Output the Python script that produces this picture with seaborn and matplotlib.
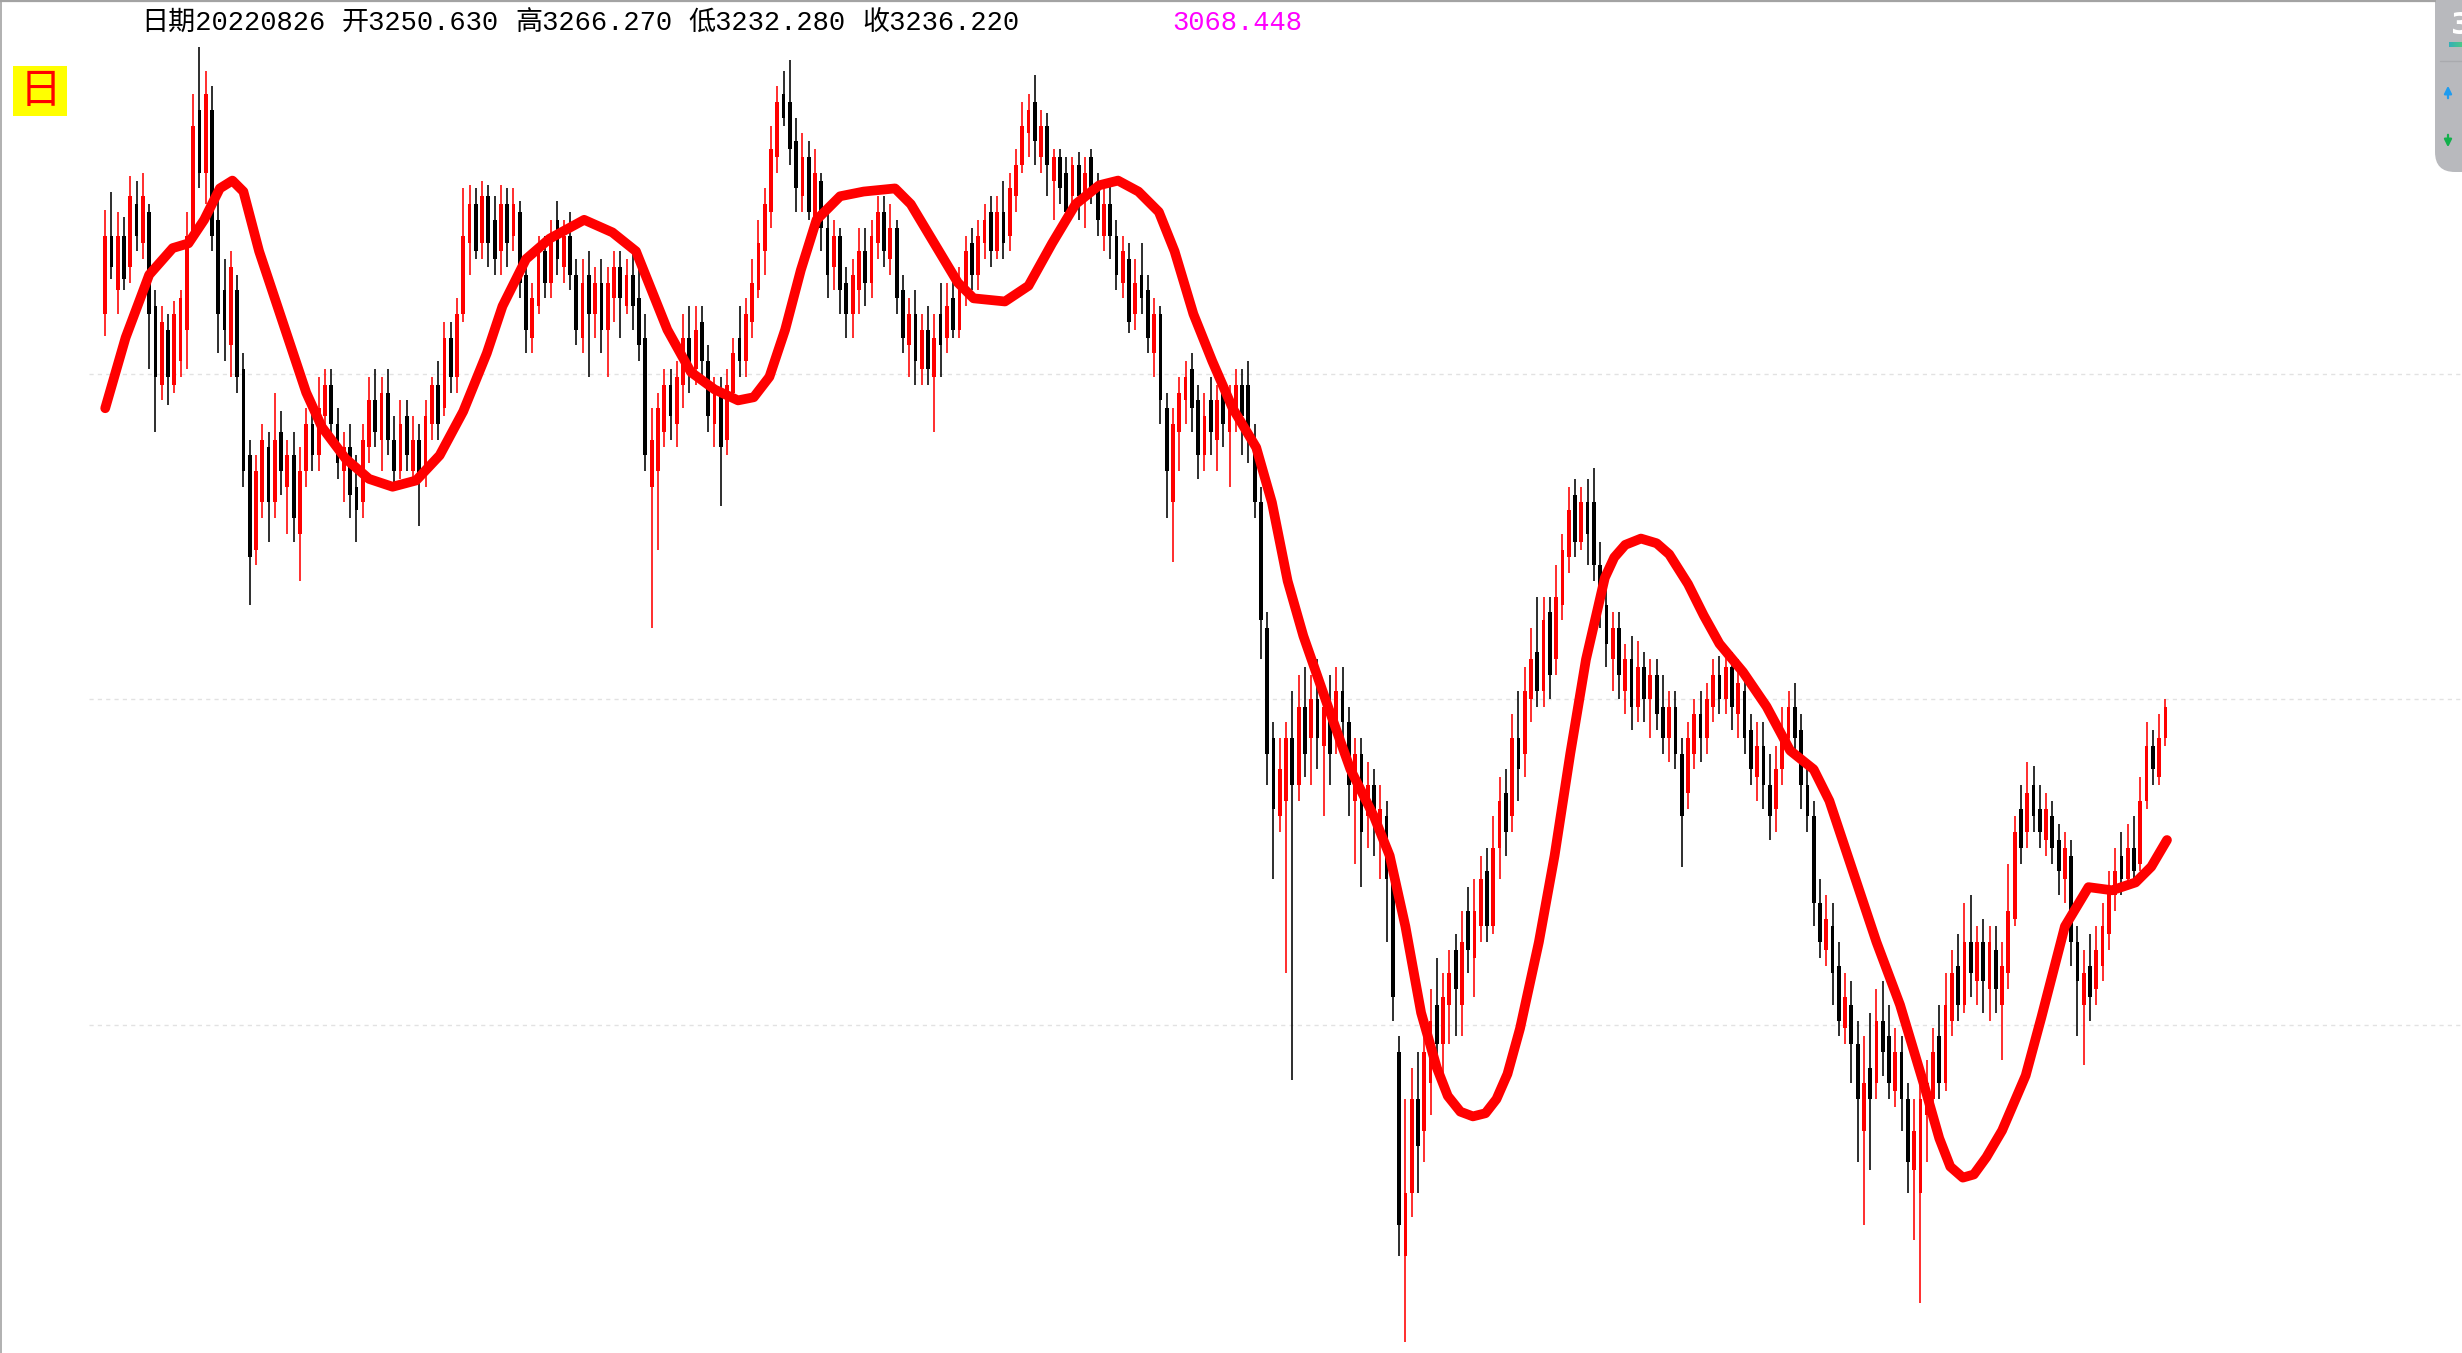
import numpy as np
import pandas as pd
import matplotlib
matplotlib.use("Agg")
import matplotlib.pyplot as plt
import seaborn as sns
from matplotlib.patches import FancyBboxPatch, Rectangle
from matplotlib.colors import LinearSegmentedColormap

# ---------------- data (daily OHLC, index points) ----------------
opens = [
    3525,3575,3540,3575,3555,3595,3570,3590,3530,3480,
    3515,3480,3495,3515,3575,3655,3615,3655,3585,3540,
    3505,3540,3490,3435,3375,3405,3440,3405,3450,3415,
    3435,3385,3425,3455,3435,3460,3480,3455,3425,3440,
    3415,3405,3440,3470,3445,3475,3445,3425,3460,3425,
    3445,3425,3455,3480,3465,3510,3485,3525,3570,3595,
    3570,3600,3585,3565,3595,3575,3590,3550,3510,3530,
    3565,3545,3585,3555,3575,3550,3510,3550,3525,3545,
    3515,3535,3555,3530,3550,3535,3510,3415,3425,3450,
    3480,3455,3480,3510,3490,3520,3495,3455,3475,3445,
    3475,3510,3495,3520,3540,3565,3590,3625,3665,3660,
    3635,3600,3625,3585,3610,3580,3555,3575,3545,3525,
    3540,3565,3545,3570,3590,3560,3580,3540,3505,3525,
    3490,3515,3485,3525,3510,3535,3515,3540,3570,3550,
    3570,3590,3565,3590,3575,3600,3620,3640,3660,3625,
    3645,3610,3625,3615,3600,3620,3600,3625,3605,3575,
    3595,3575,3545,3560,3525,3550,3540,3500,3525,3465,
    3405,3450,3470,3490,3470,3435,3470,3445,3475,3450,
    3465,3480,3480,3445,3405,3325,3255,3205,3215,3255,
    3225,3275,3255,3280,3250,3275,3255,3285,3265,3215,
    3245,3205,3225,3195,3205,3165,3055,2925,2965,3025,
    3005,3035,3085,3060,3085,3120,3085,3145,3115,3135,
    3170,3135,3185,3220,3205,3255,3245,3280,3310,3285,
    3335,3305,3340,3370,3410,3380,3405,3405,3365,3340,
    3305,3325,3285,3305,3275,3300,3280,3295,3275,3255,
    3275,3245,3220,3245,3270,3255,3275,3295,3280,3300,
    3270,3285,3260,3230,3250,3225,3210,3235,3255,3275,
    3260,3225,3205,3150,3120,3135,3110,3070,3085,3060,
    3005,3045,3035,3075,3065,3030,3055,3025,2980,2965,
    3015,3025,3065,3035,3075,3110,3085,3125,3100,3125,
    3095,3120,3085,3105,3140,3210,3195,3225,3210,3190,
    3205,3190,3165,3180,3125,3085,3110,3095,3110,3130,
    3155,3180,3165,3185,3175,3215,3250,3230,3255,
]
closes = [
    3575,3555,3575,3547,3600,3575,3600,3525,3485,3520,
    3485,3525,3535,3575,3645,3615,3665,3575,3525,3515,
    3555,3485,3425,3370,3425,3445,3405,3445,3425,3435,
    3395,3425,3455,3435,3465,3480,3455,3430,3440,3410,
    3400,3445,3470,3450,3475,3445,3425,3455,3435,3445,
    3420,3460,3480,3455,3510,3485,3525,3575,3595,3565,
    3600,3570,3560,3595,3570,3595,3545,3515,3535,3565,
    3545,3575,3560,3575,3550,3515,3545,3525,3545,3515,
    3545,3555,3535,3550,3530,3505,3435,3445,3465,3480,
    3460,3485,3510,3490,3515,3495,3460,3475,3440,3480,
    3500,3495,3525,3545,3570,3595,3630,3660,3650,3630,
    3605,3625,3590,3615,3580,3550,3575,3540,3525,3550,
    3565,3545,3575,3590,3565,3580,3535,3510,3525,3495,
    3515,3490,3510,3505,3530,3515,3545,3565,3550,3575,
    3585,3565,3590,3570,3605,3620,3645,3655,3635,3645,
    3620,3625,3605,3590,3620,3600,3615,3605,3585,3595,
    3575,3550,3565,3520,3545,3535,3510,3525,3470,3425,
    3455,3475,3485,3465,3435,3460,3450,3470,3455,3470,
    3480,3460,3445,3405,3330,3245,3210,3235,3255,3225,
    3275,3245,3280,3255,3275,3245,3285,3265,3225,3245,
    3195,3225,3205,3210,3165,3090,2945,2965,3025,2995,
    3055,3075,3060,3090,3105,3095,3125,3120,3145,3165,
    3135,3185,3215,3195,3255,3235,3285,3305,3285,3330,
    3295,3345,3375,3400,3380,3405,3385,3365,3335,3315,
    3325,3295,3305,3275,3300,3280,3295,3270,3255,3275,
    3245,3205,3255,3270,3255,3280,3295,3280,3300,3275,
    3290,3255,3235,3250,3225,3205,3235,3260,3275,3255,
    3225,3205,3150,3125,3140,3105,3075,3090,3060,3025,
    3035,3025,3075,3055,3035,3055,3025,2985,3005,3025,
    3035,3055,3035,3085,3105,3085,3125,3105,3125,3100,
    3125,3095,3110,3145,3195,3185,3220,3205,3195,3210,
    3185,3170,3185,3125,3100,3105,3090,3120,3135,3160,
    3170,3165,3185,3170,3215,3250,3235,3255,3275,
]
highs = [
    3591,3603,3590,3587,3613,3610,3615,3595,3540,3530,
    3525,3533,3540,3590,3665,3695,3680,3670,3605,3560,
    3565,3550,3500,3445,3435,3455,3450,3475,3463,3445,
    3450,3440,3465,3470,3485,3490,3490,3465,3450,3455,
    3435,3455,3485,3490,3485,3490,3460,3470,3470,3460,
    3455,3470,3485,3495,3520,3520,3535,3605,3607,3605,
    3610,3607,3600,3607,3605,3605,3597,3560,3545,3575,
    3575,3585,3597,3585,3590,3560,3560,3565,3555,3560,
    3555,3565,3565,3560,3565,3560,3525,3465,3475,3490,
    3490,3495,3525,3530,3530,3530,3505,3485,3485,3490,
    3510,3530,3535,3560,3585,3605,3645,3670,3680,3687,
    3650,3640,3635,3630,3615,3590,3585,3580,3555,3560,
    3580,3580,3585,3600,3600,3595,3585,3550,3535,3540,
    3525,3530,3525,3545,3545,3550,3555,3575,3580,3585,
    3595,3600,3600,3610,3615,3630,3660,3665,3677,3655,
    3653,3630,3630,3625,3625,3628,3625,3630,3615,3605,
    3610,3585,3575,3570,3560,3570,3550,3535,3530,3475,
    3465,3485,3495,3500,3480,3475,3485,3480,3485,3480,
    3490,3490,3495,3455,3415,3335,3265,3255,3265,3285,
    3295,3300,3295,3305,3285,3295,3300,3300,3275,3255,
    3255,3240,3235,3225,3215,3175,3065,3025,3045,3055,
    3070,3095,3115,3105,3120,3130,3145,3160,3165,3180,
    3185,3205,3230,3235,3270,3285,3300,3325,3345,3345,
    3345,3365,3385,3415,3420,3415,3420,3427,3380,3355,
    3335,3335,3315,3320,3317,3310,3305,3305,3295,3285,
    3285,3255,3265,3280,3285,3290,3305,3307,3310,3310,
    3305,3295,3270,3265,3265,3245,3250,3275,3285,3290,
    3270,3235,3215,3165,3155,3150,3125,3105,3100,3075,
    3065,3080,3095,3100,3085,3070,3065,3035,3025,3035,
    3050,3070,3085,3105,3120,3130,3150,3155,3135,3140,
    3135,3135,3125,3175,3205,3225,3240,3237,3225,3220,
    3215,3200,3195,3190,3135,3120,3130,3135,3150,3170,
    3185,3195,3200,3205,3230,3265,3260,3270,3280,
]
lows = [
    3511,3547,3525,3540,3545,3565,3560,3490,3450,3470,
    3467,3475,3485,3490,3570,3605,3595,3565,3500,3495,
    3485,3475,3415,3340,3365,3395,3380,3395,3410,3385,
    3380,3355,3415,3425,3425,3450,3445,3420,3405,3395,
    3380,3395,3430,3440,3425,3435,3415,3420,3425,3420,
    3390,3415,3445,3445,3460,3475,3475,3520,3550,3560,
    3560,3555,3550,3550,3555,3565,3535,3500,3500,3525,
    3535,3535,3550,3545,3540,3505,3500,3485,3510,3500,
    3485,3520,3510,3525,3515,3495,3425,3325,3375,3440,
    3445,3440,3465,3475,3480,3480,3450,3440,3403,3435,
    3470,3485,3485,3510,3535,3550,3580,3615,3645,3620,
    3590,3590,3585,3575,3565,3535,3540,3525,3510,3510,
    3525,3530,3535,3560,3555,3550,3525,3500,3485,3480,
    3480,3480,3450,3485,3500,3510,3510,3530,3540,3540,
    3560,3555,3560,3560,3565,3590,3615,3625,3620,3615,
    3600,3585,3595,3580,3590,3585,3580,3595,3575,3565,
    3560,3540,3535,3513,3515,3525,3500,3485,3455,3395,
    3367,3425,3455,3450,3420,3425,3435,3425,3440,3415,
    3450,3435,3430,3395,3305,3225,3165,3195,3105,3037,
    3215,3230,3225,3235,3205,3225,3245,3250,3205,3175,
    3160,3185,3180,3165,3125,3075,2925,2870,2950,2965,
    2985,3015,3045,3035,3060,3065,3065,3105,3090,3125,
    3125,3130,3165,3180,3195,3215,3230,3265,3275,3275,
    3280,3295,3330,3360,3370,3375,3365,3355,3325,3300,
    3285,3280,3270,3260,3265,3265,3255,3260,3245,3240,
    3235,3173,3210,3235,3240,3245,3265,3270,3270,3260,
    3255,3245,3225,3215,3210,3190,3195,3225,3245,3245,
    3210,3195,3135,3115,3110,3085,3065,3060,3035,2985,
    2945,2980,3025,3040,3025,3020,3005,2965,2935,2895,
    2985,3010,3025,3030,3065,3075,3080,3090,3085,3080,
    3075,3080,3050,3095,3135,3175,3185,3195,3185,3180,
    3175,3155,3150,3110,3065,3047,3075,3085,3100,3120,
    3145,3155,3160,3165,3170,3210,3225,3225,3250,
]

# smooth trend line (red, thick): bar position and value
ma_idx = [0, 3.25, 7, 10.75, 13.25, 15.75, 18.25, 20.25, 22, 24.5,
          27, 29.5, 32, 34.5, 38.25, 42, 45.75, 49.5, 53.25, 57,
          60.75, 63.25, 67, 70.75, 76.25, 80.75, 84.5, 87, 89.5, 93.25,
          97, 100.75, 103.25, 105.75, 108.25, 110.75, 113.25, 117, 120.75, 125.75,
          128.25, 132, 135.75, 138.25, 143.25, 147, 150.75, 154.5, 158.25, 161.25,
          164.5, 167.75, 170.25, 173.25, 176.25, 179.5, 183.25, 185.75, 188.25, 190.75,
          194.5, 198.25, 202, 204.5, 207, 209.5, 212, 213.75, 215.75, 217.75,
          219.75, 221.5, 223.25, 225.25, 228.25, 230.75, 233.25, 235.75, 238.75, 240.25,
          242, 244.5, 247, 249, 252, 254.5, 257, 260.75, 264.5, 268.25,
          272, 274.5, 278.25, 282, 285.75, 289.5, 292, 293.75, 295.75, 297.5,
          299.5, 302, 305.75, 308.25, 312, 315.75, 319.5, 323.25, 325.75, 328.25]
ma_val = [3465, 3510, 3550, 3567, 3570, 3585, 3605, 3610, 3603, 3565,
          3535, 3505, 3475, 3453, 3433, 3420, 3415, 3419, 3435, 3463,
          3500, 3530, 3560, 3573, 3585, 3577, 3565, 3540, 3515, 3488,
          3477, 3470, 3472, 3485, 3515, 3553, 3585, 3600, 3603, 3605,
          3595, 3570, 3545, 3535, 3533, 3543, 3570, 3595, 3607, 3610,
          3603, 3590, 3565, 3525, 3495, 3465, 3440, 3405, 3355, 3320,
          3277, 3235, 3205, 3180, 3135, 3080, 3045, 3027, 3017, 3014,
          3016, 3025, 3041, 3070, 3125, 3180, 3245, 3305, 3357, 3370,
          3378, 3382, 3379, 3372, 3353, 3333, 3315, 3297, 3275, 3247,
          3235, 3215, 3170, 3125, 3085, 3035, 3000, 2982, 2975, 2977,
          2988, 3005, 3040, 3077, 3135, 3160, 3158, 3163, 3173, 3190]

grid_levels = [3487, 3280, 3072]

header_labels = ["日期20220826", "开3250.630", "高3266.270", "低3232.280", "收3236.220"]
header_value = "3068.448"
period_label = "日"

# ---------------- build frames ----------------
n = min(len(opens), len(closes), len(highs), len(lows))
df = pd.DataFrame({
    "idx": np.arange(n),
    "open": opens[:n], "close": closes[:n],
    "high": highs[:n], "low": lows[:n],
})
m = min(len(ma_idx), len(ma_val))
ma_df = pd.DataFrame({"idx": ma_idx[:m], "ma": ma_val[:m]})

# ---------------- style ----------------
sns.set_theme(style="white")
plt.rcParams['font.family'] = ['Liberation Mono', 'Noto Sans CJK SC', 'DejaVu Sans']

W, H = 2462, 1353
fig = plt.figure(figsize=(W / 100, H / 100), dpi=100, facecolor='white')
ax = fig.add_axes([0, 0, 1, 1])
ax.set_facecolor('white')

up = df["close"].values >= df["open"].values
colors = np.where(up, '#ff0000', '#000000')

# grid lines
for g in grid_levels:
    ax.hlines(g, -2.6, 380, colors='#e2e2e2', linestyles=(0, (3, 3)),
              linewidth=1.0, zorder=1)

# wicks
ax.vlines(df["idx"], df["low"], df["high"], colors=colors, linewidth=1.15, zorder=2)
# bodies
body_bottom = np.minimum(df["open"].values, df["close"].values)
body_h = np.maximum(np.abs(df["close"].values - df["open"].values), 2.0)
ax.bar(df["idx"], body_h, bottom=body_bottom, width=0.6, color=colors,
       linewidth=0, zorder=3)

# thick red trend line
sns.lineplot(data=ma_df, x="idx", y="ma", ax=ax, color='#ff0000', linewidth=7.0,
             sort=False, legend=False, solid_capstyle='round',
             solid_joinstyle='round', zorder=4)

ax.set_xlim(-16.75, 375.22)
ax.set_ylim(2863.3, 3725)
ax.set_axis_off()

# ---------------- overlay (pixel coordinates) ----------------
ov = fig.add_axes([0, 0, 1, 1], zorder=10)
ov.patch.set_alpha(0)

# frame
ov.plot([0, 2436], [1.2, 1.2], color='#a3a3a3', lw=1.6, solid_capstyle='butt')
ov.plot([0.8, 0.8], [0, H], color='#a3a3a3', lw=1.2, solid_capstyle='butt')

# header texts
hx = [141, 342, 515, 688, 862]
for x, lab in zip(hx, header_labels):
    ov.text(x, 23, lab, color='black', fontsize=19.5, ha='left', va='center')
ov.text(1172, 23, header_value, color='#ff00ff', fontsize=19.5, ha='left', va='center')

# period box
ov.add_patch(Rectangle((13, 66), 54, 50, facecolor='#ffff00', edgecolor='none'))
ov.text(40, 92, period_label, color='#ff0000', fontsize=30, ha='center', va='center',
        family=['Noto Sans CJK SC'])

# right-hand floating widget
ov.add_patch(FancyBboxPatch((2435, -40), 80, 212,
                            boxstyle='round,pad=0,rounding_size=20',
                            facecolor='#b8b9bd', edgecolor='none'))
ov.text(2451, 25, '3', color='white', fontsize=22, fontweight='bold',
        family=['DejaVu Sans'], ha='left', va='center')
cm = LinearSegmentedColormap.from_list('wg', ['#35b0b8', '#5ad66a'])
ov.imshow(np.linspace(0, 1, 40).reshape(1, -1), cmap=cm,
          extent=(2449, 2470, 47, 42), aspect='auto', zorder=11)
ov.plot([2440, 2462], [61, 61], color='#a9aaae', lw=1)
ov.annotate('', xy=(2448, 83), xytext=(2448, 101),
            arrowprops=dict(arrowstyle='-|>', color='#1f9cf0', lw=1.6,
                            mutation_scale=11))
ov.annotate('', xy=(2448, 150), xytext=(2448, 132),
            arrowprops=dict(arrowstyle='-|>', color='#12b04c', lw=1.6,
                            mutation_scale=11))

ov.set_xlim(0, W)
ov.set_ylim(H, 0)
ov.set_axis_off()

fig.savefig('out.png', dpi=100, facecolor='white')
